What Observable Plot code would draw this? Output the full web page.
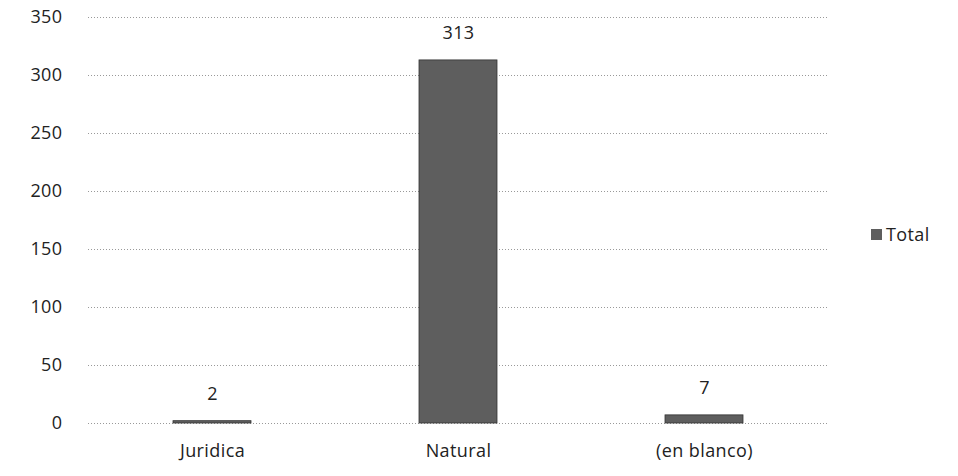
<!DOCTYPE html>
<html>
<head>
<meta charset="utf-8">
<script src="https://cdn.jsdelivr.net/npm/d3@7"></script>
<script src="https://cdn.jsdelivr.net/npm/@observablehq/plot@0.6"></script>
<style>
  html, body { margin: 0; padding: 0; background: #fff; }
  #wrap { position: relative; width: 958px; height: 476px; }
  #legend { position: absolute; left: 871px; top: 222px; font: 18px "Open Sans", sans-serif; color: #222; display: flex; align-items: center; letter-spacing: 0.4px; }
  #legend span.sw { display: inline-block; width: 11px; height: 11px; background: #5e5e5e; margin-right: 4px; }
</style>
</head>
<body>
<div id="wrap"><div id="legend"><span class="sw"></span>Total</div></div>
<script>
const categories = ["Juridica", "Natural", "(en blanco)"];
const totals = [2, 313, 7];
const yTicks = [0, 50, 100, 150, 200, 250, 300, 350];

const data = categories.map((c, i) => ({category: c, total: totals[i]}));

const chart = Plot.plot({
  width: 958,
  height: 476,
  marginLeft: 88,
  marginRight: 130,
  marginTop: 17,
  marginBottom: 53,
  style: {fontFamily: "'Open Sans', sans-serif", fontSize: "18px", color: "#222", background: "#fff"},
  x: {domain: categories, paddingInner: 0.684, paddingOuter: 0.342, label: null, tickSize: 0, tickPadding: 21},
  y: {domain: [0, 350], ticks: yTicks, label: null, tickSize: 0, tickPadding: 26},
  marks: [
    Plot.ruleY(yTicks, {stroke: "#999", strokeWidth: 1, strokeDasharray: "1,2"}),
    Plot.barY(data, {x: "category", y: "total", fill: "#5e5e5e", stroke: "#333", strokeWidth: 0.8}),
    Plot.text(data, {x: "category", y: "total", text: d => String(d.total), dy: -27, fontSize: 18, fill: "#222"})
  ]
});
chart.style.letterSpacing = "0.4px";
document.getElementById("wrap").prepend(chart);
</script>
</body>
</html>
